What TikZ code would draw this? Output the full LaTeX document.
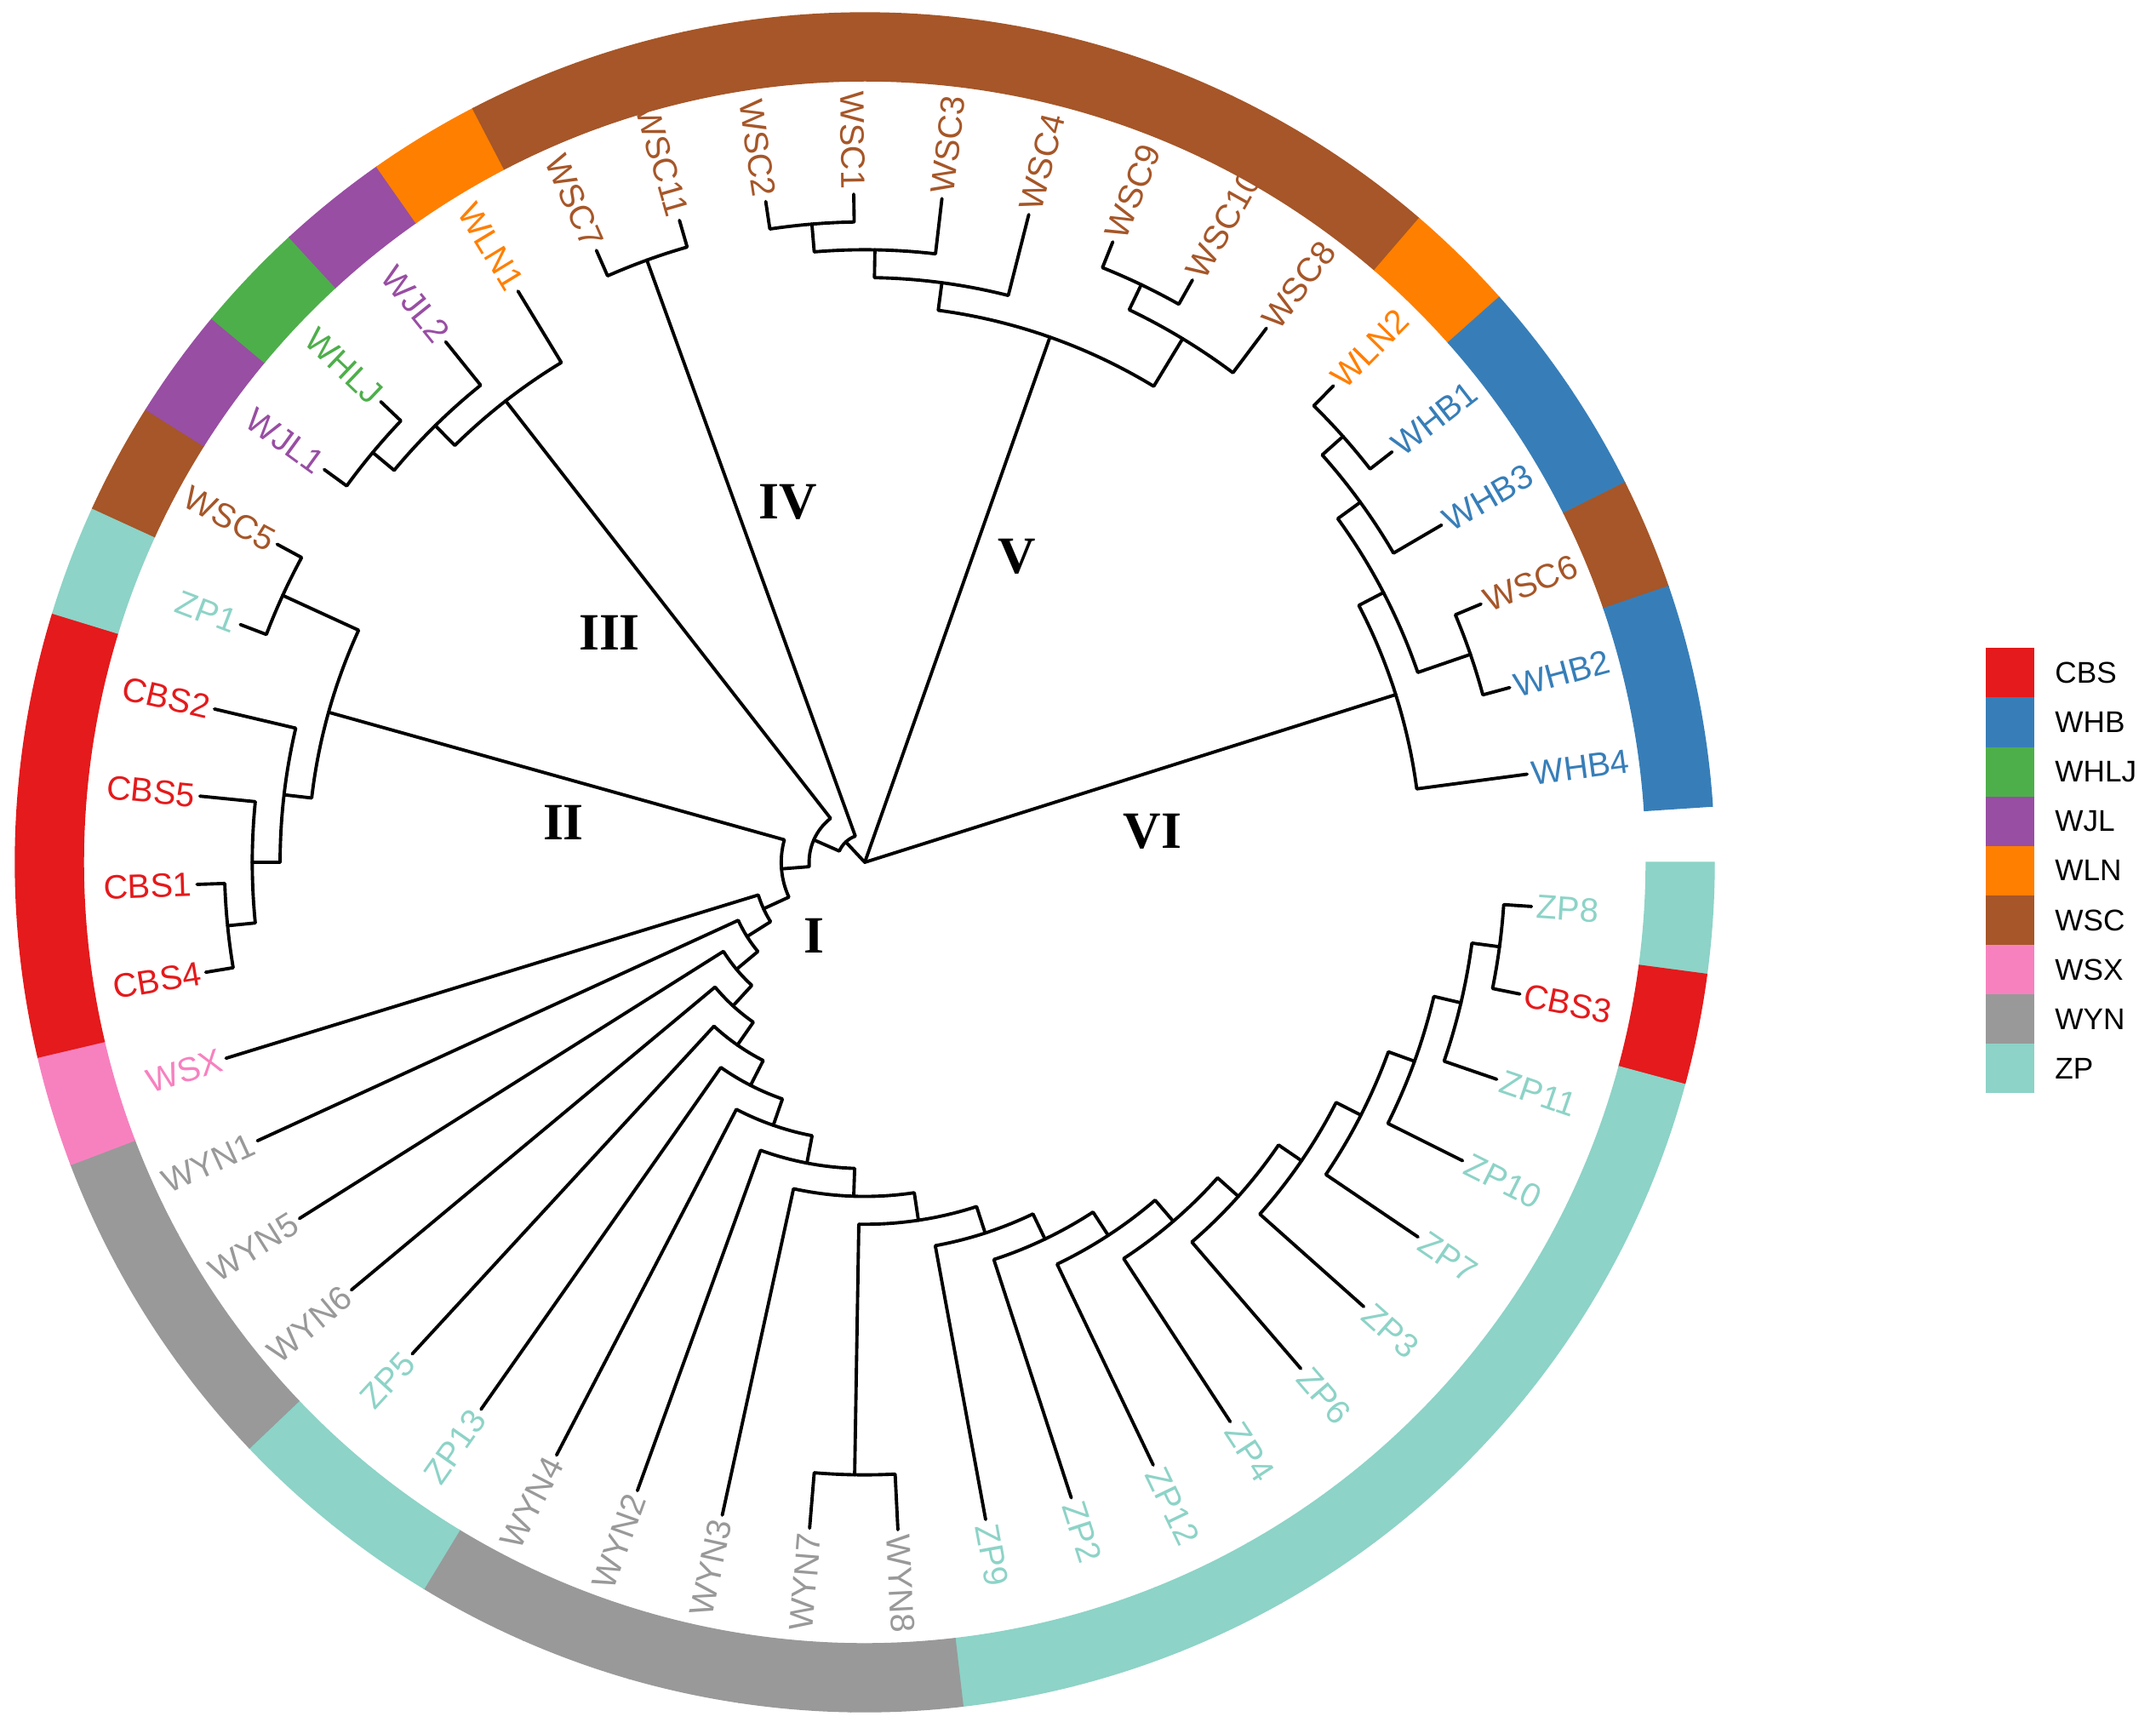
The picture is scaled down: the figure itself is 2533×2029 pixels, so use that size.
\documentclass[tikz,border=0pt]{standalone}
\usepackage{fontspec}
\usepackage{tikz}
\usetikzlibrary{calc}
\usetikzlibrary{positioning}
\usepackage{xcolor}
\newfontfamily\LabFont{Liberation Sans}
\newfontfamily\NumFont{Liberation Serif}
\definecolor{ColCBS}{HTML}{E41A1C}
\definecolor{ColWHB}{HTML}{377EB8}
\definecolor{ColWHLJ}{HTML}{4DAF4A}
\definecolor{ColWJL}{HTML}{984EA3}
\definecolor{ColWLN}{HTML}{FF7F00}
\definecolor{ColWSC}{HTML}{A65628}
\definecolor{ColWSX}{HTML}{F781BF}
\definecolor{ColWYN}{HTML}{999999}
\definecolor{ColZP}{HTML}{8DD3C7}
\tikzstyle{Branch}=[black,line width=1.1pt,line cap=round,line join=round]
\tikzstyle{TipLabel}=[inner sep=1.5pt,font=\LabFont\fontsize{11.3}{13}\selectfont]
\tikzstyle{CladeLabel}=[inner sep=0pt,font=\NumFont\bfseries\fontsize{17.5}{20}\selectfont]
\tikzstyle{KeyBox}=[inner sep=0pt,minimum width=0.57cm,minimum height=0.581cm]
\tikzstyle{KeyText}=[anchor=west,inner sep=0pt,font=\LabFont\fontsize{10}{12}\selectfont]
\newcommand{\Lv}{32.71}
\newcommand{\Slot}{7.578947}
\newcommand{\Leaves}{ZP8/ZP,CBS3/CBS,ZP11/ZP,ZP10/ZP,ZP7/ZP,ZP3/ZP,ZP6/ZP,ZP4/ZP,ZP12/ZP,ZP2/ZP,
  ZP9/ZP,WYN8/WYN,WYN7/WYN,WYN3/WYN,WYN2/WYN,WYN4/WYN,ZP13/ZP,ZP5/ZP,WYN6/WYN,WYN5/WYN,
  WYN1/WYN,WSX/WSX,CBS4/CBS,CBS1/CBS,CBS5/CBS,CBS2/CBS,ZP1/ZP,WSC5/WSC,WJL1/WJL,WHLJ/WHLJ,
  WJL2/WJL,WLN1/WLN,WSC7/WSC,WSC11/WSC,WSC2/WSC,WSC1/WSC,WSC3/WSC,WSC4/WSC,WSC9/WSC,WSC10/WSC,
  WSC8/WSC,WLN2/WLN,WHB1/WHB,WHB3/WHB,WSC6/WSC,WHB2/WHB,WHB4/WHB}
% elbow: arc at the parent's radius, then out to the child
\newcommand{\Elbow}[2]{%
  \draw[Branch] let \p1=(#1), \p2=(#2),
    \n1={atan2(\y1,\x1)}, \n2={atan2(\y2,\x2)},
    \n3={veclen(\x1,\y1)}, \n4={mod((\n2)-(\n1)+540,360)-180}
    in (#1) arc[start angle=\n1, delta angle=\n4, radius=\n3] -- (#2);}

\begin{document}
\begin{tikzpicture}[x=0.01cm,y=0.01cm]
  \useasboundingbox (-1016,-1016) rectangle (1517,1013);
  % tips and labels
  \foreach \leaf/\grp [count=\i from 0] in \Leaves {
    \pgfmathsetmacro{\ang}{-(\i+0.5)*\Slot}
    \pgfmathtruncatemacro{\rgt}{cos(\ang)>0}
    \coordinate (\leaf) at (\ang:24*\Lv);
    \ifnum\rgt=1
      \node[TipLabel,text=Col\grp,rotate=\ang,anchor=west](lab\leaf) at (\leaf){\leaf};
    \else
      \node[TipLabel,text=Col\grp,rotate=\ang+180,anchor=east](lab\leaf) at (\leaf){\leaf};
    \fi
  }
  % inner nodes: name/angle/level
  \coordinate (root) at (0,0);
  \foreach \nd/\ang/\lev in {L23/7.579/23,L22/13.263/22,L21/19.895/21,L20/27.000/20,
    L19/34.342/19,L18/41.803/18,L17/49.322/17,L16/56.872/16,L15/64.436/15,L14/72.007/14,
    W78/90.947/22,L13/81.477/13,L12/91.897/12,L11/100.896/11,L10/109.185/10,L9/117.119/9,
    L8/124.875/8,L7/132.543/7,L6/140.166/6,L5/147.767/5,L4/155.357/4,
    nCBS14/174.316/23,nCBS5/180.000/22,nCBS2/186.632/21,nZP1/204.632/23,nII/195.632/20,
    N3/175.495/3,nWJL1/219.789/23,nWJL2/225.474/22,nIII/232.105/21,N2/203.800/2,
    nIV/250.105/23,N1/226.953/1,nWSC2/265.263/23,nWSC3/270.947/22,nWSC4/277.579/21,
    nWSC9/295.579/23,nWSC8/301.263/22,nV/289.421/20,nWLN2/318.316/23,nWHB3/324.000/22,
    nWSC6/341.053/23,nWHB/332.526/21,nVI/342.474/20}
    \coordinate (\nd) at (-\ang:\lev*\Lv);
  % branches
  \foreach \parent/\child in {L23/ZP8,L23/CBS3,L22/L23,L22/ZP11,L21/L22,L21/ZP10,
    L20/L21,L20/ZP7,L19/L20,L19/ZP3,L18/L19,L18/ZP6,L17/L18,L17/ZP4,L16/L17,L16/ZP12,
    L15/L16,L15/ZP2,L14/L15,L14/ZP9,W78/WYN8,W78/WYN7,L13/L14,L13/W78,L12/L13,L12/WYN3,
    L11/L12,L11/WYN2,L10/L11,L10/WYN4,L9/L10,L9/ZP13,L8/L9,L8/ZP5,L7/L8,L7/WYN6,
    L6/L7,L6/WYN5,L5/L6,L5/WYN1,L4/L5,L4/WSX,
    nCBS14/CBS4,nCBS14/CBS1,nCBS5/nCBS14,nCBS5/CBS5,nCBS2/nCBS5,nCBS2/CBS2,
    nZP1/ZP1,nZP1/WSC5,nII/nCBS2,nII/nZP1,N3/L4,N3/nII,
    nWJL1/WJL1,nWJL1/WHLJ,nWJL2/nWJL1,nWJL2/WJL2,nIII/nWJL2,nIII/WLN1,N2/N3,N2/nIII,
    nIV/WSC7,nIV/WSC11,N1/N2,N1/nIV,
    nWSC2/WSC2,nWSC2/WSC1,nWSC3/nWSC2,nWSC3/WSC3,nWSC4/nWSC3,nWSC4/WSC4,
    nWSC9/WSC9,nWSC9/WSC10,nWSC8/nWSC9,nWSC8/WSC8,nV/nWSC4,nV/nWSC8,
    nWLN2/WLN2,nWLN2/WHB1,nWHB3/nWLN2,nWHB3/WHB3,nWSC6/WSC6,nWSC6/WHB2,
    nWHB/nWHB3,nWHB/nWSC6,nVI/nWHB,nVI/WHB4}
    {\Elbow{\parent}{\child}}
  \draw[Branch](root)--(N1);
  \draw[Branch](root)--(nV);
  \draw[Branch](root)--(nVI);
  % group ring
  \foreach \leaf/\grp [count=\i from 0] in \Leaves {
    \pgfmathsetmacro{\aS}{-(\i+0.5)*\Slot-\Slot/2}
    \pgfmathsetmacro{\aE}{-(\i+0.5)*\Slot+\Slot/2}
    \fill[Col\grp,draw=Col\grp,line width=0.4pt] (\aS:918) arc[start angle=\aS,end angle=\aE,radius=918]
      -- (\aE:998) arc[start angle=\aE,end angle=\aS,radius=998] -- cycle;
  }
  % clade numbers
  \node[CladeLabel](cI) at (-60,-86){I};
  \node[CladeLabel](cII) at (-354,47){II};
  \node[CladeLabel](cIII) at (-300,270){III};
  \node[CladeLabel](cIV) at (-90,423){IV};
  \node[CladeLabel](cV) at (179,359){V};
  \node[CladeLabel](cVI) at (338,36){VI};
  % legend
  \foreach \grp [count=\k from 0] in {CBS,WHB,WHLJ,WJL,WLN,WSC,WSX,WYN,ZP}{
    \node[KeyBox,fill=Col\grp](box\grp) at (1345.5,222.55-58.1*\k){};
    \node[KeyText,right=0.23cm of box\grp](key\grp){\grp};
  }
\end{tikzpicture}
\end{document}
